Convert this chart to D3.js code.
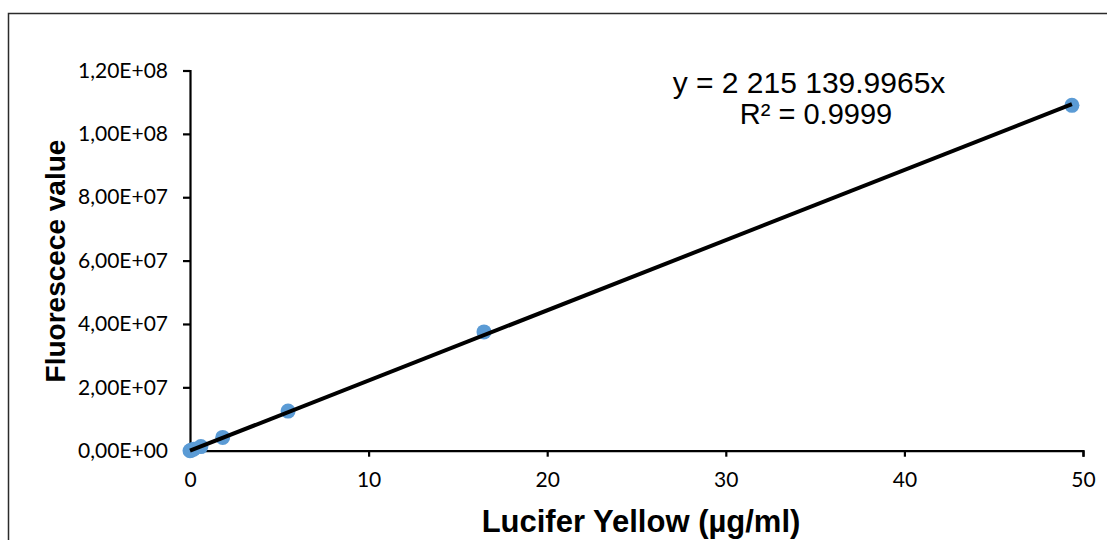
<!DOCTYPE html>
<html>
<head>
<meta charset="utf-8">
<script src="https://cdn.jsdelivr.net/npm/d3@7"></script>
<style>
  html, body { margin: 0; padding: 0; background: #fff; }
  svg { display: block; }
</style>
</head>
<body>
<svg id="chart" width="1107" height="540"></svg>
<script>
// Lucifer Yellow calibration series (µg/ml) and measured fluorescence
const concentration = [0, 0.068, 0.203, 0.609, 1.83, 5.49, 16.46, 49.38];
const fluorescence  = [0, 1.6e5, 4.6e5, 1.3e6, 4.2e6, 1.25e7, 3.75e7, 1.09e8];

// Linear fit through the origin
const slope = 2215139.9965;
const rSquared = 0.9999;

const xTicks = [0, 10, 20, 30, 40, 50];
const yTicks = [0, 2e7, 4e7, 6e7, 8e7, 1e8, 1.2e8];

const xTitle = "Lucifer Yellow (µg/ml)";
const yTitle = "Fluorescece value";
const eqLine = "y = 2 215 139.9965x";
const r2Line = "R² = " + rSquared.toFixed(4);

const svg = d3.select("#chart");

// chart frame
svg.append("rect")
  .attr("x", 8.5).attr("y", 13.5)
  .attr("width", 1120).attr("height", 560)
  .attr("fill", "none")
  .attr("stroke", "#2b2b2b")
  .attr("stroke-width", 1.5);

const x = d3.scaleLinear().domain([0, 50]).range([190, 1083]);
const y = d3.scaleLinear().domain([0, 1.2e8]).range([450.7, 70.5]);

const tickFont = "Lato, 'Open Sans', sans-serif";

// y axis
const yAxis = d3.axisLeft(y)
  .tickValues(yTicks)
  .tickSize(7)
  .tickPadding(15)
  .tickFormat(d => d3.format(".2e")(d)
      .replace(".", ",")
      .replace(/e([+-])(\d)$/, "e$10$2")
      .toUpperCase());

const gy = svg.append("g")
  .attr("transform", `translate(${x(0)},0)`)
  .call(yAxis);
gy.select(".domain").attr("stroke", "#000").attr("stroke-width", 2.2);
gy.selectAll(".tick line").attr("stroke", "#000").attr("stroke-width", 2.2);
gy.selectAll(".tick text")
  .attr("font-family", tickFont)
  .attr("font-size", 21)
  .attr("fill", "#000");

// x axis
const xAxis = d3.axisBottom(x)
  .tickValues(xTicks)
  .tickSize(6)
  .tickPadding(15)
  .tickFormat(d3.format("d"));

const gx = svg.append("g")
  .attr("transform", `translate(0,${y(0)})`)
  .call(xAxis);
gx.select(".domain").attr("stroke", "#000").attr("stroke-width", 2.2);
gx.selectAll(".tick line").attr("stroke", "#000").attr("stroke-width", 2.2);
gx.selectAll(".tick text")
  .attr("font-family", tickFont)
  .attr("font-size", 21)
  .attr("fill", "#000");

// data points
svg.append("g")
  .selectAll("circle")
  .data(concentration.map((c, i) => [c, fluorescence[i]]))
  .join("circle")
  .attr("cx", d => x(d[0]))
  .attr("cy", d => y(d[1]))
  .attr("r", 7.5)
  .attr("fill", "#5B9BD5");

// trendline drawn over the markers
const xMax = d3.max(concentration);
svg.append("line")
  .attr("x1", x(0)).attr("y1", y(0))
  .attr("x2", x(xMax)).attr("y2", y(slope * xMax))
  .attr("stroke", "#000")
  .attr("stroke-width", 4);

// equation label
const labelFont = "'Liberation Sans', Arial, sans-serif";
svg.append("text")
  .attr("x", 809).attr("y", 93)
  .attr("text-anchor", "middle")
  .attr("font-family", labelFont)
  .attr("font-size", 30)
  .text(eqLine);
svg.append("text")
  .attr("x", 816).attr("y", 124)
  .attr("text-anchor", "middle")
  .attr("font-family", labelFont)
  .attr("font-size", 29)
  .text(r2Line);

// axis titles
svg.append("text")
  .attr("x", 641).attr("y", 532)
  .attr("text-anchor", "middle")
  .attr("font-family", labelFont)
  .attr("font-weight", "bold")
  .attr("font-size", 31)
  .text(xTitle);

svg.append("text")
  .attr("transform", `translate(65,261) rotate(-90)`)
  .attr("text-anchor", "middle")
  .attr("font-family", labelFont)
  .attr("font-weight", "bold")
  .attr("font-size", 28)
  .text(yTitle);
</script>
</body>
</html>
